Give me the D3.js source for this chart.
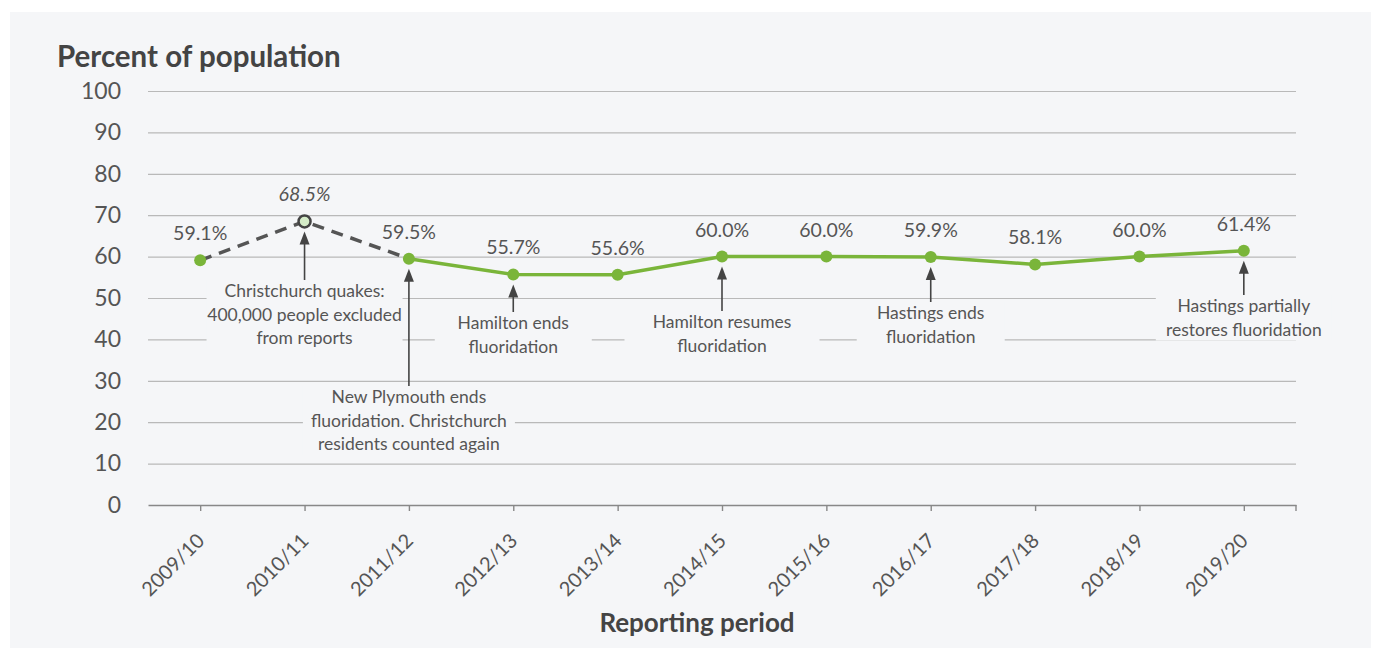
<!DOCTYPE html>
<html><head><meta charset="utf-8">
<script src="https://cdn.jsdelivr.net/npm/d3@7"></script>
<style>
body{margin:0;background:#fff;}
svg{display:block;}
text{font-family:Lato,"Noto Sans",sans-serif;}
</style>
</head><body>
<svg id="c" width="1376" height="651"></svg>
<script>
// ---- data ----
const categories = ["2009/10","2010/11","2011/12","2012/13","2013/14","2014/15","2015/16","2016/17","2017/18","2018/19","2019/20"];
const values = [59.1, 68.5, 59.5, 55.7, 55.6, 60.0, 60.0, 59.9, 58.1, 60.0, 61.4];
const dashedCategories = ["2009/10","2010/11","2011/12"];
const solidCategories = ["2011/12","2012/13","2013/14","2014/15","2015/16","2016/17","2017/18","2018/19","2019/20"];
const excludedCategories = ["2010/11"];
const yTicks = [0,10,20,30,40,50,60,70,80,90,100];
const annotationCategories = ["2010/11","2011/12","2012/13","2014/15","2016/17","2019/20"];
const annotationTexts = [
  ["Christchurch quakes:","400,000 people excluded","from reports"],
  ["New Plymouth ends","fluoridation. Christchurch","residents counted again"],
  ["Hamilton ends","fluoridation"],
  ["Hamilton resumes","fluoridation"],
  ["Hastings ends","fluoridation"],
  ["Hastings partially","restores fluoridation"]
];
const titleText = "Percent of population";
const xTitleText = "Reporting period";

// ---- layout (pixels) ----
const annotationLayout = [
  {top:291, w:196},
  {top:397, w:212},
  {top:323, w:157},
  {top:322, w:195},
  {top:313, w:148},
  {top:306, w:176}
];

const valueOf = c => values[categories.indexOf(c)];
const svg = d3.select("#c");
const panelColor = "#f5f6f8";
svg.append("rect").attr("x",10).attr("y",12).attr("width",1361).attr("height",636).attr("fill",panelColor);

const x = d3.scalePoint().domain(categories).range([148,1296]).padding(0.5);
const y = d3.scaleLinear().domain([0,100]).range([505,91]);

// gridlines + y labels
const yAxis = svg.append("g").attr("transform","translate(148,0)")
  .call(d3.axisLeft(y).tickValues(yTicks).tickSizeInner(-1148).tickSizeOuter(0).tickPadding(27));
yAxis.select(".domain").remove();
yAxis.selectAll(".tick line").attr("stroke","#b9b9b9").attr("stroke-width",1.2)
  .filter(d=>d===0).remove();
yAxis.selectAll(".tick text").attr("font-size",23).attr("fill","#555").attr("font-family","Lato");

// annotation backgrounds
const lh = 23.5;
const ann = annotationCategories.map((c,i)=>({c, lines:annotationTexts[i], ...annotationLayout[i]}));
svg.append("g").selectAll("rect").data(ann).join("rect")
  .attr("x",d=>x(d.c)-d.w/2).attr("y",d=>d.top-11)
  .attr("width",d=>d.w).attr("height",d=>(d.lines.length-1)*lh+22)
  .attr("fill",panelColor);

// x axis
const xAxis = svg.append("g").attr("transform","translate(0,505)")
  .call(d3.axisBottom(x).tickSizeInner(6).tickSizeOuter(0));
xAxis.select(".domain").attr("stroke","#888").attr("stroke-width",1.6);
xAxis.selectAll(".tick line").attr("stroke","#888").attr("stroke-width",1.4);
xAxis.append("line").attr("x1",1296).attr("x2",1296).attr("y1",0).attr("y2",6).attr("stroke","#888").attr("stroke-width",1.4);
xAxis.selectAll(".tick text")
  .attr("x",0).attr("y",0).attr("dy","0.35em")
  .attr("text-anchor","end")
  .attr("transform","translate(0,32) rotate(-45)")
  .attr("font-size",20).attr("fill","#555").attr("font-family","Lato");

// annotation texts
const at = svg.append("g").selectAll("text").data(ann).join("text")
  .attr("text-anchor","middle").attr("font-size",17.5).attr("fill","#555");
at.each(function(d){
  d3.select(this).selectAll("tspan").data(d.lines).join("tspan")
    .attr("x",x(d.c)).attr("y",(l,i)=>d.top+i*lh).attr("dy","0.35em").text(l=>l);
});

// arrows
const ag = svg.append("g");
ann.forEach(d=>{
  const cx = x(d.c), tip = y(valueOf(d.c))+10;
  ag.append("line").attr("x1",cx).attr("x2",cx).attr("y1",d.top-11).attr("y2",tip+10)
    .attr("stroke","#444").attr("stroke-width",1.6);
  ag.append("path").attr("d",`M${cx},${tip}L${cx-5},${tip+13}L${cx+5},${tip+13}Z`).attr("fill","#444");
});

// lines
const line = d3.line().x(c=>x(c)).y(c=>y(valueOf(c)));
svg.append("path").datum(dashedCategories).attr("d",line)
  .attr("fill","none").attr("stroke","#555").attr("stroke-width",3.5).attr("stroke-dasharray","12,8");
svg.append("path").datum(solidCategories).attr("d",line)
  .attr("fill","none").attr("stroke","#7ab53a").attr("stroke-width",3.5);

// points
svg.append("g").selectAll("circle").data(categories).join("circle")
  .attr("cx",c=>x(c)).attr("cy",c=>y(valueOf(c))).attr("r",6)
  .attr("fill",c=>excludedCategories.includes(c)?"#d5ecc8":"#7ab53a")
  .attr("stroke",c=>excludedCategories.includes(c)?"#444":"none")
  .attr("stroke-width",2.5);

// value labels
svg.append("g").selectAll("text").data(categories).join("text")
  .attr("x",c=>x(c)).attr("y",c=>y(valueOf(c))-20)
  .attr("text-anchor","middle").attr("font-size",19.5).attr("fill","#555")
  .attr("font-style",c=>excludedCategories.includes(c)?"italic":"normal")
  .text(c=>valueOf(c).toFixed(1)+"%");

// titles
svg.append("text").attr("x",57).attr("y",67).attr("font-size",29.5).attr("font-weight","bold").attr("fill","#444").text(titleText);
svg.append("text").attr("x",697).attr("y",632).attr("text-anchor","middle").attr("font-size",26).attr("font-weight","bold").attr("fill","#444").text(xTitleText);
</script>
</body></html>
